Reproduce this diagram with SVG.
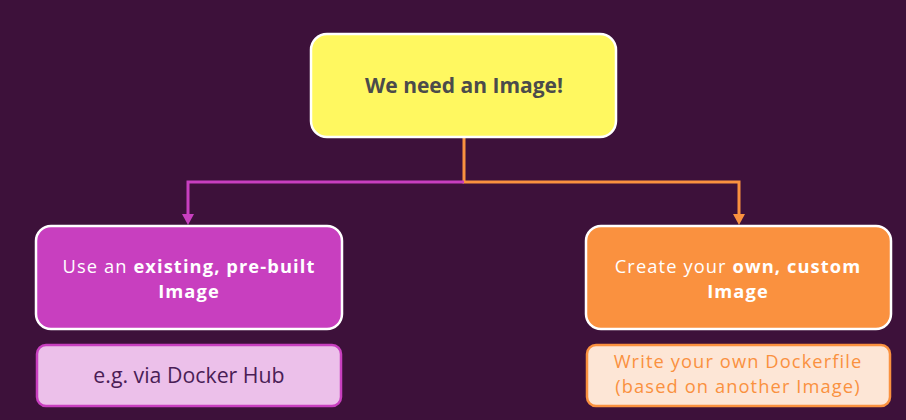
<svg xmlns="http://www.w3.org/2000/svg" width="906" height="420" viewBox="0 0 906 420">
<defs>
<style>
.t{font-family:"Open Sans","Noto Sans","DejaVu Sans",sans-serif;text-anchor:middle;font-size:18.3px;letter-spacing:1.1px}
.main{stroke:#ffffff;stroke-width:2.5}
.b{font-weight:700}
</style>
</defs>
<rect width="906" height="420" fill="#3d113a"/>
<g id="connectors" fill="none" stroke-width="3">
<path d="M464,137 V182 H739 V216" stroke="#fa913f"/>
<path d="M464,182 H188 V216" stroke="#c83fbf"/>
<path d="M182,214 H194 L188,225 Z" fill="#c83fbf" stroke="none"/>
<path d="M733,214 H745 L739,225 Z" fill="#fa913f" stroke="none"/>
</g>
<g id="top">
<rect class="main" x="311" y="34" width="305" height="103" rx="16" fill="#fff860"/>
<text class="t b" x="464" y="93" style="font-size:21px;letter-spacing:0" fill="#4b4b4b">We need an Image!</text>
</g>
<g id="left">
<rect class="main" x="36" y="226" width="306" height="103" rx="15" fill="#c83fbf"/>
<text class="t" x="189" y="272.5" fill="#ffffff">Use an <tspan class="b">existing, pre-built</tspan></text>
<text class="t b" x="189" y="297.5" fill="#ffffff">Image</text>
</g>
<g id="left-sub">
<rect x="37" y="345" width="304" height="61" rx="9" fill="#ecc0ea" stroke="#c83fbf" stroke-width="2.5"/>
<text class="t" x="189" y="383" style="font-size:21.3px;letter-spacing:0" fill="#4a1d56">e.g. via Docker Hub</text>
</g>
<g id="right">
<rect class="main" x="586" y="226" width="305" height="103" rx="15" fill="#fa913f"/>
<text class="t" x="738" y="272.5" fill="#ffffff">Create your <tspan class="b">own, custom</tspan></text>
<text class="t b" x="738" y="297.5" fill="#ffffff">Image</text>
</g>
<g id="right-sub">
<rect x="587" y="345" width="303" height="61" rx="9" fill="#fde6d6" stroke="#fa913f" stroke-width="2.5"/>
<text class="t" x="738" y="368.3" fill="#fa913f">Write your own Dockerfile</text>
<text class="t" x="738" y="393.3" fill="#fa913f">(based on another Image)</text>
</g>
</svg>
